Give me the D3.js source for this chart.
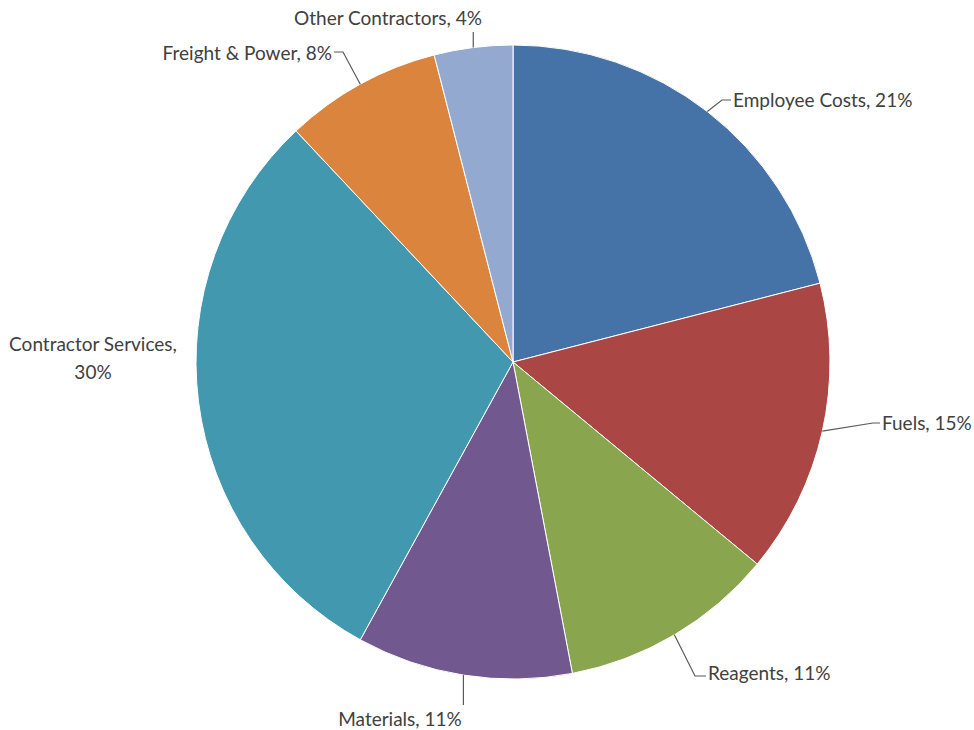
<!DOCTYPE html>
<html>
<head>
<meta charset="utf-8">
<script src="https://cdn.jsdelivr.net/npm/d3@7"></script>
<style>
  html, body { margin: 0; padding: 0; background: #fff; }
  svg { display: block; }
</style>
</head>
<body>
<svg id="chart" width="974" height="730"></svg>
<script>
(() => {
    // chart data, clockwise from 12 o'clock
    const categories = ["Employee Costs", "Fuels", "Reagents", "Materials", "Contractor Services", "Freight & Power", "Other Contractors"];
    const shares = [21, 15, 11, 11, 30, 8, 4];
    const colors = ["#4572a7", "#aa4643", "#89a54e", "#71588f", "#4198af", "#db843d", "#93a9cf"];

    const width = 974, height = 730;
    const cx = 513, cy = 362, radius = 317;

    // label placement (relative to pie center) - hand tuned to match the excel layout
    const labelLayout = [
        { x: 220, y: -263, anchor: "start", elbow: [209, -262] },
        { x: 369, y: 60, anchor: "start", elbow: [360, 61] },
        { x: 195, y: 310, anchor: "start", elbow: [182, 314] },
        { x: -113, y: 356, anchor: "middle", drop: 343 },
        { x: -420, y: -5, anchor: "middle", wrap: true },
        { x: -181, y: -310, anchor: "end", elbow: [-170, -310] },
        { x: -125, y: -345, anchor: "middle", drop: -330 }
    ];

    const data = categories.map((name, i) => ({ name, value: shares[i], color: colors[i], lab: labelLayout[i] }));

    const svg = d3.select("#chart");
    const g = svg.append("g").attr("transform", `translate(${cx},${cy})`);

    const pie = d3.pie().value(d => d.value).sort(null);
    const arc = d3.arc().innerRadius(0).outerRadius(radius);
    const arcs = pie(data);

    g.selectAll("path.slice")
        .data(arcs)
        .join("path")
        .attr("class", "slice")
        .attr("d", arc)
        .attr("fill", d => d.data.color)
        .attr("stroke", "#fff")
        .attr("stroke-width", 1);

    // leader lines start on the rim at the slice's mid angle
    const rimPoint = d => {
        const a = (d.startAngle + d.endAngle) / 2;
        return [radius * Math.sin(a), -radius * Math.cos(a)];
    };

    const leaders = g.append("g")
        .attr("fill", "none")
        .attr("stroke", "#595959")
        .attr("stroke-width", 1.2);

    arcs.forEach(d => {
        const lab = d.data.lab;
        const p = rimPoint(d);
        let pts = null;
        if (lab.elbow) {
            const endX = lab.anchor === "end" ? lab.x + 2 : lab.x - 2;
            pts = [p, lab.elbow, [endX, lab.elbow[1]]];
        } else if (lab.drop !== undefined) {
            pts = [p, [p[0], lab.drop]];
        }
        if (pts) leaders.append("path").attr("d", d3.line()(pts));
    });

    const labels = g.append("g")
        .attr("font-family", "Lato, 'Open Sans', sans-serif")
        .attr("font-size", 19)
        .attr("fill", "#404040");

    arcs.forEach(d => {
        const lab = d.data.lab;
        const txt = `${d.data.name}, ${d.data.value}%`;
        const t = labels.append("text")
            .attr("x", lab.x)
            .attr("y", lab.y)
            .attr("text-anchor", lab.anchor)
            .attr("dominant-baseline", "central");
        if (lab.wrap) {
            t.append("tspan").attr("x", lab.x).attr("dy", -14).text(`${d.data.name},`);
            t.append("tspan").attr("x", lab.x).attr("dy", 28).text(`${d.data.value}%`);
        } else {
            t.text(txt);
        }
    });
})();
</script>
</body>
</html>
